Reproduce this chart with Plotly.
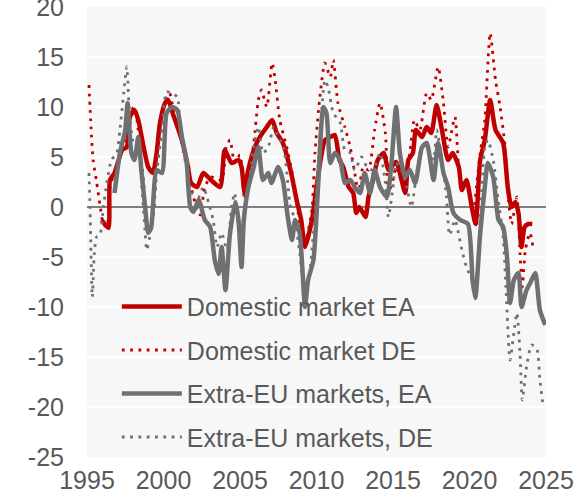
import plotly.graph_objects as go

# ---- data ----
dom_ea_t = [1995.96, 1996.4, 1996.5, 1996.8, 1997.3, 1997.6, 1997.8, 1998.1, 1998.35, 1998.7,
            1999.0, 1999.3, 1999.55, 1999.77, 2000.1, 2000.3, 2000.6, 2001.2, 2001.6, 2001.8,
            2002.2, 2002.6, 2003.1, 2003.7, 2004.0, 2004.45, 2004.9, 2005.1, 2005.3, 2005.5,
            2005.9, 2006.3, 2006.75, 2007.1, 2007.4, 2007.8, 2008.3, 2008.7, 2009.0, 2009.25,
            2009.7, 2010.0, 2010.3, 2010.55, 2010.9, 2011.2, 2011.5, 2011.75, 2012.1, 2012.4,
            2012.6, 2012.8, 2013.2, 2013.4, 2013.7, 2014.0, 2014.4, 2014.7, 2015.2, 2015.8,
            2016.0, 2016.3, 2016.5, 2016.9, 2017.2, 2017.5, 2017.85, 2018.2, 2018.6, 2018.9,
            2019.3, 2019.5, 2019.8, 2020.15, 2020.4, 2020.7, 2021.0, 2021.35, 2021.7, 2022.2,
            2022.5, 2022.75, 2023.0, 2023.2, 2023.4, 2023.6, 2023.85, 2024.1]
dom_ea_v = [-1.3, -2.1, 2.7, 3.4, 5.7, 6.0, 9.0, 9.7, 8.7, 6.0,
            4.0, 3.4, 5.4, 8.4, 10.4, 10.7, 9.4, 6.7, 4.0, 2.4,
            2.0, 3.4, 2.7, 2.0, 5.7, 4.4, 4.7, 4.0, 1.4, 3.4,
            5.7, 7.0, 8.0, 8.7, 7.4, 6.4, 3.7, 0.7, -1.3, -4.0,
            -1.3, 2.0, 5.0, 6.7, 7.0, 7.2, 4.7, 4.0, 2.0, 1.4,
            -0.6, 0.0, -1.0, 1.0, 2.7, 4.7, 5.4, 3.7, 4.5, 1.4,
            4.7, 5.4, 7.7, 7.0, 8.0, 7.4, 10.2, 7.7, 4.7, 5.4,
            4.0, 1.7, 2.7, 0.0, -1.7, 4.7, 6.7, 10.7, 7.7, 6.4,
            2.0, 0.0, 0.5, -0.6, -4.0, -2.0, -1.7, -1.7]

dom_de_t = [1995.13, 1995.26, 1995.4, 1995.63, 1995.85, 1996.07, 1996.3, 1996.5, 1996.7, 1997.05,
            1997.4, 1997.6, 1997.8, 1998.1, 1998.35, 1998.7, 1998.9, 1999.1, 1999.35, 1999.55,
            1999.9, 2000.2, 2000.4, 2000.75, 2001.2, 2001.5, 2001.85, 2002.2, 2002.4, 2002.7,
            2003.1, 2003.8, 2004.1, 2004.35, 2004.65, 2005.0, 2005.3, 2005.55, 2005.9, 2006.2,
            2006.4, 2006.75, 2007.1, 2007.3, 2007.6, 2008.05, 2008.5, 2008.8, 2009.15, 2009.35,
            2009.7, 2009.9, 2010.2, 2010.55, 2010.9, 2011.1, 2011.4, 2011.85, 2012.2, 2012.5,
            2012.75, 2013.05, 2013.4, 2013.8, 2014.15, 2014.5, 2014.7, 2015.0, 2015.2, 2015.7,
            2016.1, 2016.4, 2016.75, 2017.2, 2017.5, 2017.95, 2018.3, 2018.6, 2019.05, 2019.3,
            2019.6, 2019.9, 2020.25, 2020.45, 2020.7, 2021.0, 2021.35, 2021.7, 2022.0, 2022.3,
            2022.55, 2022.75, 2023.1, 2023.3, 2023.45, 2023.65, 2023.95, 2024.15]
dom_de_v = [12.2, 8.0, 4.7, 2.5, 0.2, -1.7, -2.0, 2.0, 3.0, 4.7,
            6.0, 7.7, 9.4, 10.0, 7.7, 2.4, -1.3, -2.6, -0.6, 3.7,
            8.0, 11.0, 11.4, 8.7, 6.4, 4.0, 1.7, -0.3, -0.8, 2.0,
            3.0, 2.7, 6.0, 6.7, 4.4, 5.2, 0.7, 3.0, 6.4, 10.7,
            11.7, 10.0, 14.4, 12.7, 8.7, 6.0, 2.7, -0.6, -3.3, -3.0,
            -0.3, 5.4, 10.7, 14.4, 13.0, 14.7, 10.4, 8.0, 6.0, 3.4,
            1.4, 4.0, 3.7, 7.7, 10.4, 7.4, 1.4, 2.7, 4.0, 2.0,
            5.4, 8.7, 7.7, 11.4, 10.7, 14.0, 10.4, 6.0, 9.0, 4.0,
            2.0, 1.7, -0.6, 2.0, 5.4, 8.7, 17.4, 12.7, 10.0, 6.4,
            0.7, -1.7, 1.0, -4.6, -8.0, -4.3, -2.6, -4.0]

ext_ea_t = [1996.8, 1997.15, 1997.5, 1997.65, 1997.9, 1998.1, 1998.35, 1998.55, 1998.8, 1999.0,
            1999.2, 1999.55, 1999.9, 2000.2, 2000.55, 2000.9, 2001.2, 2001.5, 2001.75, 2001.95,
            2002.3, 2002.7, 2003.05, 2003.35, 2003.6, 2003.8, 2004.05, 2004.35, 2004.7, 2004.9,
            2005.1, 2005.25, 2005.55, 2005.9, 2006.2, 2006.5, 2006.85, 2007.05, 2007.5, 2007.8,
            2008.15, 2008.4, 2008.6, 2008.9, 2009.25, 2009.45, 2009.8, 2010.1, 2010.45, 2010.65,
            2010.9, 2011.2, 2011.55, 2011.85, 2012.2, 2012.5, 2012.85, 2013.15, 2013.5, 2013.8,
            2014.15, 2014.6, 2014.9, 2015.2, 2015.45, 2015.8, 2016.1, 2016.45, 2016.9, 2017.2,
            2017.65, 2017.95, 2018.3, 2018.6, 2018.95, 2019.4, 2019.9, 2020.2, 2020.38, 2020.7,
            2021.0, 2021.2, 2021.55, 2021.9, 2022.2, 2022.45, 2022.65, 2022.9, 2023.2, 2023.4,
            2023.73, 2024.0, 2024.3, 2024.6, 2024.95]
ext_ea_v = [1.4, 5.4, 7.7, 10.4, 5.4, 4.7, 7.0, 3.7, 0.0, -2.6,
            -2.0, 3.7, 3.4, 9.4, 10.0, 9.7, 7.0, 4.7, 0.0, -0.5,
            0.7, -1.3, -2.0, -5.3, -6.7, -4.0, -8.3, -2.6, 0.5, -1.3,
            -6.0, -1.3, 2.0, 4.0, 6.0, 2.7, 3.4, 2.4, 4.0, 2.7,
            -1.3, -3.3, -1.3, -2.6, -10.0, -7.3, -5.3, 2.0, 10.0, 9.4,
            4.4, 5.4, 4.7, 2.4, 2.7, 2.0, 1.4, 3.4, 1.4, 3.7,
            2.0, 1.0, 4.4, 10.0, 5.4, 3.0, 3.7, 2.4, 6.0, 6.4,
            2.7, 6.4, 3.4, 2.0, -0.6, -1.3, -1.7, -7.3, -9.1, -2.6,
            2.0, 4.4, 3.0, -1.3, -2.0, -5.0, -9.6, -7.3, -6.6, -10.0,
            -8.3, -7.5, -6.6, -10.3, -11.8]

ext_de_t = [1995.13, 1995.2, 1995.26, 1995.35, 1995.48, 1995.63, 1995.85, 1996.07, 1996.3, 1996.6,
            1996.95, 1997.15, 1997.4, 1997.6, 1997.8, 1998.05, 1998.35, 1998.55, 1998.8, 1998.9,
            1999.1, 1999.35, 1999.55, 1999.9, 2000.2, 2000.55, 2000.9, 2001.1, 2001.45, 2001.85,
            2002.3, 2002.6, 2002.95, 2003.25, 2003.5, 2003.8, 2004.15, 2004.45, 2004.65, 2004.9,
            2005.1, 2005.25, 2005.55, 2005.9, 2006.2, 2006.5, 2006.85, 2007.2, 2007.5, 2007.85,
            2008.3, 2008.6, 2008.9, 2009.25, 2009.55, 2009.9, 2010.2, 2010.55, 2010.75, 2011.1,
            2011.55, 2011.85, 2012.2, 2012.5, 2012.95, 2013.3, 2013.7, 2014.15, 2014.5, 2014.7,
            2015.0, 2015.2, 2015.65, 2015.9, 2016.2, 2016.55, 2016.9, 2017.2, 2017.65, 2017.85,
            2018.2, 2018.5, 2018.7, 2019.05, 2019.5, 2019.8, 2020.15, 2020.35, 2020.7, 2021.0,
            2021.2, 2021.55, 2021.85, 2022.2, 2022.4, 2022.65, 2022.9, 2023.1, 2023.3, 2023.45,
            2023.73, 2024.05, 2024.4, 2024.6, 2024.82]
ext_de_v = [3.4, 0.0, -4.6, -9.0, -4.6, -3.0, -2.8, 0.0, 2.4, 4.7,
            5.4, 7.7, 11.4, 14.0, 8.7, 6.4, 6.0, 2.7, -2.6, -4.3,
            -3.0, 0.0, 3.4, 7.7, 11.5, 11.4, 11.0, 7.7, 4.7, 1.4,
            1.0, 2.0, 0.4, -1.3, -4.0, -2.6, -4.3, 0.0, 1.4, -2.0,
            -3.0, -0.6, 2.0, 6.0, 8.0, 5.4, 6.0, 8.0, 7.0, 6.0,
            0.0, -1.3, -4.6, -9.0, -6.6, -0.6, 6.4, 12.7, 12.0, 9.4,
            8.4, 5.7, 5.4, 3.7, 5.0, 4.0, 3.7, 5.4, 2.4, -1.0,
            2.0, 4.4, 3.4, 2.0, 0.0, 3.4, 6.0, 6.0, 4.7, 7.7,
            4.7, 1.0, -2.8, -1.3, -4.3, -6.0, -7.3, -9.0, -1.3, 6.0,
            6.7, 4.7, 1.0, -3.0, -8.6, -15.3, -12.6, -10.6, -14.6, -19.3,
            -16.0, -13.8, -14.2, -17.3, -20.0]

names = ["Domestic market EA", "Domestic market DE", "Extra-EU markets, EA", "Extra-EU markets, DE"]
x_ticks = [1995, 2000, 2005, 2010, 2015, 2020, 2025]
y_ticks = [-25, -20, -15, -10, -5, 0, 5, 10, 15, 20]

RED = "#C00000"
GREY = "#6F7072"
TXT = "#595959"
FONT = "Arial, Liberation Sans, sans-serif"

fig = go.Figure()
series = [
    (dom_ea_t, dom_ea_v, names[0], RED, 4.5, "solid"),
    (dom_de_t, dom_de_v, names[1], RED, 2.8, "2.8px,5.5px"),
    (ext_ea_t, ext_ea_v, names[2], GREY, 4.5, "solid"),
    (ext_de_t, ext_de_v, names[3], GREY, 2.8, "2.8px,5.5px"),
]
for t, v, n, c, w, d in series:
    fig.add_trace(go.Scatter(x=t, y=v, mode="lines", name=n, legendgroup=n,
                             line=dict(color=c, width=w, dash=d, shape="spline", smoothing=0.6)))

fig.update_layout(
    width=576, height=494,
    margin=dict(l=87, r=30, t=7, b=37, autoexpand=False),
    paper_bgcolor="white", plot_bgcolor="#F7F7F7",
    font=dict(family=FONT, size=25, color=TXT),
    showlegend=True,
    legend=dict(x=0.065, y=0.385, xanchor="left", yanchor="top",
                bgcolor="rgba(0,0,0,0)", font=dict(size=25, color=TXT),
                traceorder="grouped", tracegroupgap=8, itemwidth=60),
    xaxis=dict(range=[1995, 2025], tickvals=x_ticks, ticktext=[str(x) for x in x_ticks],
               showgrid=False, zeroline=False, showline=False, ticks="",
               ticklabelstandoff=6, ticklabeloverflow="allow",
               tickfont=dict(size=25, color=TXT)),
    yaxis=dict(range=[-25, 20], tickvals=y_ticks, ticktext=[str(y) for y in y_ticks],
               showgrid=True, gridcolor="white", gridwidth=1.5,
               zeroline=True, zerolinecolor="#7F7F7F", zerolinewidth=1.5,
               showline=False, ticks="", ticklabelstandoff=22, ticklabeloverflow="allow",
               tickfont=dict(size=25, color=TXT)),
)

fig.write_html("out.html", config={"displayModeBar": False},
               post_script="document.body.style.margin='0px';")
